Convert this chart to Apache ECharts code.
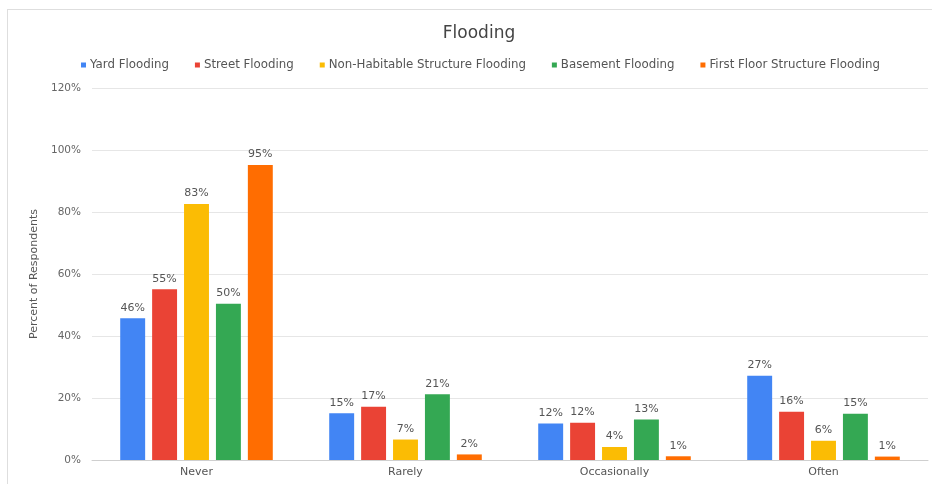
<!DOCTYPE html>
<html>
<head>
<meta charset="utf-8">
<script src="https://cdn.jsdelivr.net/npm/echarts@6/dist/echarts.min.js"></script>
<style>
html,body{margin:0;padding:0;background:#fff;}
#c{width:932px;height:484px;position:relative;}
#frame{position:absolute;left:7px;top:9px;right:0;bottom:0;border-left:1px solid #dedede;border-top:1px solid #dedede;pointer-events:none;}
</style>
</head>
<body>
<div style="position:relative;width:932px;height:484px;">
<div id="c"></div>
<div id="frame"></div>
</div>
<script>
const categories = ['Never', 'Rarely', 'Occasionally', 'Often'];
const seriesNames = ['Yard Flooding', 'Street Flooding', 'Non-Habitable Structure Flooding', 'Basement Flooding', 'First Floor Structure Flooding'];
const yardFlooding = [45.7, 15.1, 11.8, 27.2];
const streetFlooding = [55.1, 17.2, 12.0, 15.6];
const nonHabitableFlooding = [82.6, 6.6, 4.2, 6.2];
const basementFlooding = [50.4, 21.2, 13.1, 14.9];
const firstFloorFlooding = [95.2, 1.8, 1.2, 1.1];
const yTicks = [0, 20, 40, 60, 80, 100, 120];
const colors = ['#4285F4', '#EA4335', '#FBBC04', '#34A853', '#FF6D01'];

const allValues = [yardFlooding, streetFlooding, nonHabitableFlooding, basementFlooding, firstFloorFlooding];
const font = '"DejaVu Sans", Verdana, sans-serif';

const chart = echarts.init(document.getElementById('c'), null, {renderer: 'canvas'});
chart.setOption({
  backgroundColor: 'transparent',
  animation: false,
  color: colors,
  textStyle: {fontFamily: font},
  title: {
    text: 'Flooding',
    left: 474, top: 20, textAlign: 'center',
    textStyle: {fontSize: 17, fontWeight: 'normal', color: '#444', fontFamily: font}
  },
  legend: {
    top: 54, left: 76,
    itemWidth: 5, itemHeight: 5, itemGap: 26,
    icon: 'rect',
    textStyle: {fontSize: 11.8, color: '#555', fontFamily: font, padding: [0, 0, 0, -1]},
    data: seriesNames
  },
  grid: {left: 92, right: 4, top: 88, bottom: 24, containLabel: false},
  xAxis: {
    type: 'category',
    data: categories,
    axisTick: {show: false},
    axisLine: {show: true, lineStyle: {color: '#cfcfcf', width: 1}},
    axisLabel: {fontSize: 11, color: '#555', margin: 7, fontFamily: font}
  },
  yAxis: {
    type: 'value',
    min: yTicks[0], max: yTicks[yTicks.length - 1], interval: 20,
    name: 'Percent of Respondents',
    nameLocation: 'middle',
    nameGap: 51,
    nameTextStyle: {fontSize: 11, color: '#555', fontFamily: font},
    axisLine: {show: false},
    axisTick: {show: false},
    splitLine: {lineStyle: {color: '#e6e6e6', width: 1}},
    axisLabel: {fontSize: 10.5, color: '#666', margin: 11, formatter: v => v + '%', fontFamily: font}
  },
  series: seriesNames.map((name, i) => ({
    name: name,
    type: 'bar',
    data: allValues[i],
    barGap: '28%',
    barCategoryGap: '27%',
    itemStyle: {color: colors[i]},
    label: {
      show: true, position: 'top', distance: 5,
      fontSize: 11, color: '#555', fontFamily: font,
      formatter: p => Math.round(p.value) + '%'
    }
  }))
});
</script>
</body>
</html>
